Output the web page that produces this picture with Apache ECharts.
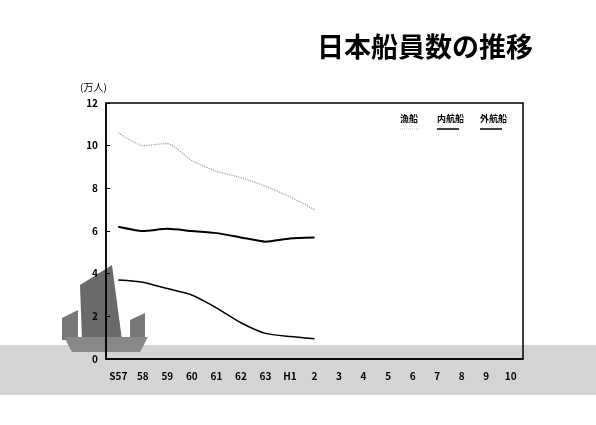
<!DOCTYPE html>
<html><head><meta charset="utf-8">
<script src="https://cdn.jsdelivr.net/npm/echarts@6/dist/echarts.min.js"></script>
<style>body{margin:0;background:#fff}#c{width:596px;height:425px}</style>
</head><body><div id="c"></div>
<script>
// 年度
var years = ['S57','58','59','60','61','62','63','H1','2','3','4','5','6','7','8','9','10']
// 漁船
var gyosen = [10.6, 10.0, 10.1, 9.3, 8.8, 8.5, 8.1, 7.6, 7.0]
// 内航船
var naiko = [6.2, 6.0, 6.1, 6.0, 5.9, 5.7, 5.5, 5.65, 5.7]
// 外航船
var gaiko = [3.7, 3.6, 3.3, 3.0, 2.4, 1.7, 1.2, 1.05, 0.95]
var names = ['漁船', '内航船', '外航船']

var chart = echarts.init(document.getElementById('c'))
var font = '"Noto Sans CJK JP", sans-serif'

// 凡例（文字の下に線）
var legendX = [400, 437, 480]
var legendG = []
names.forEach(function (n, i) {
  legendG.push({ type: 'text', x: legendX[i], y: 114,
    style: { text: n, fontSize: 9, fontWeight: 'bold', fontFamily: font, fill: '#000' } })
  legendG.push({ type: 'line', shape: { x1: legendX[i], y1: 129, x2: legendX[i] + (i ? 22 : 20), y2: 129 },
    style: { stroke: i ? '#000' : '#bbb', lineWidth: i ? 1.5 : 1, lineDash: i ? null : [1, 1] } })
})

chart.setOption({
  animation: false,
  textStyle: { fontFamily: font },
  title: {
    text: '日本船員数の推移', right: 58, top: 28,
    textStyle: { fontSize: 27, fontWeight: 'bold', color: '#000', fontFamily: font }
  },
  graphic: [
    { type: 'rect', z: -10, shape: { x: 0, y: 345, width: 596, height: 50 }, style: { fill: '#d4d4d4' } },
    { type: 'polygon', z: -5, shape: { points: [[80, 285], [112, 265], [122, 340], [82, 340]] }, style: { fill: '#6a6a6a' } },
    { type: 'polygon', z: -5, shape: { points: [[62, 318], [78, 310], [78, 340], [62, 340]] }, style: { fill: '#777' } },
    { type: 'polygon', z: -5, shape: { points: [[130, 320], [145, 313], [145, 338], [130, 338]] }, style: { fill: '#777' } },
    { type: 'polygon', z: -5, shape: { points: [[64, 337], [148, 337], [140, 352], [72, 352]] }, style: { fill: '#888' } },
    { type: 'text', x: 80, y: 82, style: { text: '(万人)', fontSize: 10, fontFamily: font, fill: '#000' } }
  ].concat(legendG),
  grid: { left: 106, right: 73, top: 103, bottom: 66, show: true, borderColor: '#000', borderWidth: 1.5 },
  xAxis: {
    type: 'category', data: years, boundaryGap: true,
    axisLine: { lineStyle: { color: '#000', width: 1.5 } },
    axisTick: { alignWithLabel: true, length: 4, inside: true, lineStyle: { color: '#000' } },
    axisLabel: { color: '#000', fontSize: 10, fontWeight: 'bold', margin: 12 }
  },
  yAxis: {
    type: 'value', min: 0, max: 12, interval: 2,
    axisLine: { show: true, lineStyle: { color: '#000', width: 1.5 } },
    axisTick: { show: true, inside: true, length: 4, lineStyle: { color: '#000' } },
    axisLabel: { color: '#000', fontSize: 10, fontWeight: 'bold' },
    splitLine: { show: false }
  },
  series: [
    { name: names[0], type: 'line', data: gyosen, smooth: 0.2, symbol: 'none',
      lineStyle: { color: '#999', width: 1.2, type: 'dotted' } },
    { name: names[1], type: 'line', data: naiko, smooth: 0.2, symbol: 'none',
      lineStyle: { color: '#000', width: 2 } },
    { name: names[2], type: 'line', data: gaiko, smooth: 0.2, symbol: 'none',
      lineStyle: { color: '#000', width: 1.5 } }
  ]
})
</script></body></html>
